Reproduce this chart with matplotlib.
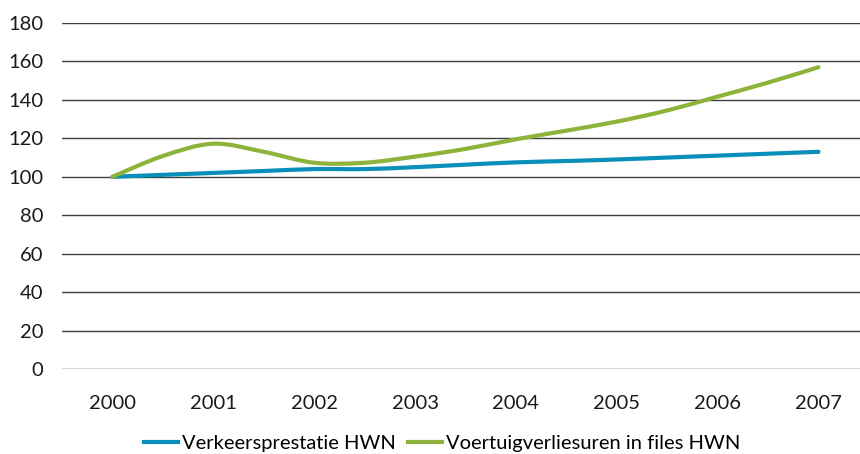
import numpy as np
import matplotlib
matplotlib.use("Agg")
import matplotlib.pyplot as plt
from matplotlib.path import Path
from matplotlib.patches import PathPatch
from matplotlib.lines import Line2D

plt.rcParams['font.family'] = ['Lato', 'DejaVu Sans']

years = ["2000", "2001", "2002", "2003", "2004", "2005", "2006", "2007"]
# half-year points (index 0 = 2000, 0.5 = mid 2000, ...)
t = [0, 0.5, 1, 1.5, 2, 2.5, 3, 3.5, 4, 4.5, 5, 5.5, 6, 6.5, 7]
verkeer = [100, 101, 102, 103, 104, 104, 105, 106.3, 107.5, 108.2, 109, 110, 111, 112, 113]
verlies = [100, 110.8, 117.2, 113, 107.3, 107.3, 110.5, 114.5, 119.5, 124, 128.7, 134.5, 141.7, 149, 157]

BLUE = "#0a8fba"
GREEN = "#8db33a"


def smooth_path(x, y):
    # Catmull-Rom style bezier like Excel's smoothed lines
    x = np.asarray(x, float)
    y = np.asarray(y, float)
    n = len(x)
    verts = [(x[0], y[0])]
    codes = [Path.MOVETO]
    for i in range(n - 1):
        p0 = (x[max(i - 1, 0)], y[max(i - 1, 0)])
        p1 = (x[i], y[i])
        p2 = (x[i + 1], y[i + 1])
        p3 = (x[min(i + 2, n - 1)], y[min(i + 2, n - 1)])
        c1 = (p1[0] + (p2[0] - p0[0]) / 6, p1[1] + (p2[1] - p0[1]) / 6)
        c2 = (p2[0] - (p3[0] - p1[0]) / 6, p2[1] - (p3[1] - p1[1]) / 6)
        verts += [c1, c2, p2]
        codes += [Path.CURVE4] * 3
    return Path(verts, codes)


fig = plt.figure(figsize=(8.6, 4.54), dpi=100)
ax = fig.add_axes([62 / 860, 85 / 454, 798 / 860, 346 / 454])

for vals, col in [(verkeer, BLUE), (verlies, GREEN)]:
    ax.add_patch(PathPatch(smooth_path(t, vals), facecolor="none", edgecolor=col,
                           lw=3, capstyle="round", joinstyle="round", zorder=3))

ax.set_xlim(-0.5, -0.5 + 798 / 100.86)
ax.set_ylim(0, 180)
ax.set_yticks(range(0, 181, 20))
ax.set_xticks(range(len(years)))
ax.set_xticklabels(years)
ax.grid(axis="y", color="#404040", lw=1)
ax.set_axisbelow(True)
for s in ax.spines.values():
    s.set_visible(False)
ax.tick_params(length=0, labelsize=14.5, colors="#1a1a1a")
ax.tick_params(axis="x", pad=19)
ax.tick_params(axis="y", pad=13.5)

handles = [Line2D([], [], color=BLUE, lw=3), Line2D([], [], color=GREEN, lw=3)]
fig.legend(handles, ["Verkeersprestatie HWN", "Voertuigverliesuren in files HWN"],
           loc="center", bbox_to_anchor=(442 / 860, 1 - 443 / 454), ncol=2, frameon=False,
           fontsize=14.5, handlelength=1.7, handletextpad=0.2, columnspacing=0.6,
           borderaxespad=0, borderpad=0)

fig.savefig("out.png", dpi=100)
